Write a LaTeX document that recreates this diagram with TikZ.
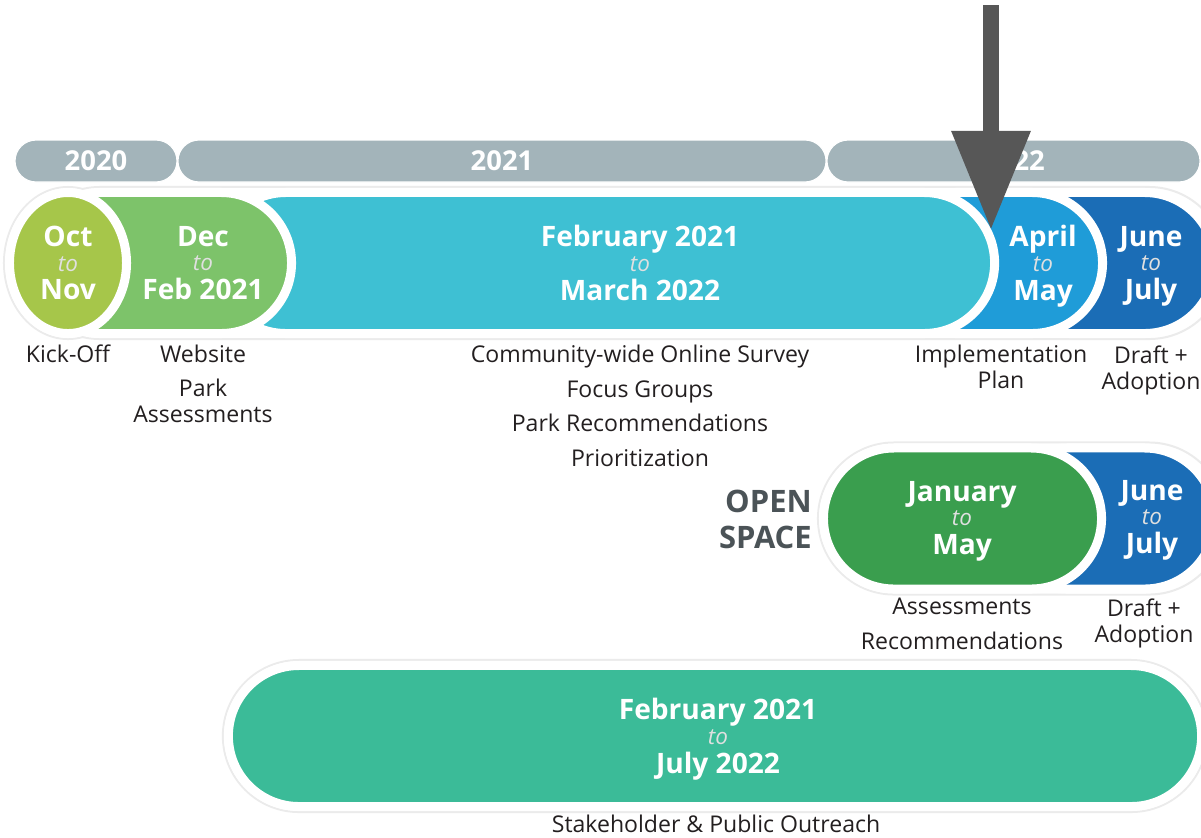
\documentclass[tikz,border=0pt]{standalone}
\usepackage{fontspec}
\setmainfont{Open Sans}
\usepackage{xcolor}
\usetikzlibrary{shapes,shapes.misc,shapes.geometric,arrows.meta,positioning}

\definecolor{yeargray}{HTML}{A3B4BA}
\definecolor{octgreen}{HTML}{A6C64A}
\definecolor{decgreen}{HTML}{7DC36A}
\definecolor{tealblue}{HTML}{3EC0D3}
\definecolor{aprilblue}{HTML}{1F9CD8}
\definecolor{juneblue}{HTML}{1B6DB6}
\definecolor{jangreen}{HTML}{3A9E4E}
\definecolor{outgreen}{HTML}{3BBB98}
\definecolor{spacegray}{HTML}{4B5357}
\definecolor{arrowgray}{HTML}{575757}
\definecolor{labelblack}{HTML}{231F20}

\newcommand{\upto}{{\fontsize{16}{18}\selectfont\mdseries\itshape\color{white!88!black}to}}

\begin{document}
\begin{tikzpicture}[x=0.025cm, y=-0.025cm,
    year/.style={rounded rectangle, fill=yeargray, draw=white, line width=0.03cm, minimum height=1.05cm, inner sep=0, text=white, font=\fontsize{19.5}{21}\selectfont\bfseries},
    halo/.style={rounded rectangle, fill=white, draw=black!8, line width=0.05cm, minimum height=3.8cm, inner sep=0},
    pill/.style={rounded rectangle, draw=white, line width=0.225cm, minimum height=3.525cm, inner sep=0},
    date/.style={text=white, align=center, text depth=0pt, font=\fontsize{20}{24}\selectfont\bfseries},
    task/.style={text=labelblack, align=center, font=\fontsize{16.4}{18.5}\selectfont},
    tasklist/.style={text=labelblack, align=center, font=\fontsize{16.4}{24.5}\selectfont},
    pointer/.style={draw=arrowgray, line width=0.4cm, -{Triangle[width=1.875cm, length=2.475cm]}}
]
\useasboundingbox (0,0) rectangle (1201,837);

% Year bars
\node[year, minimum width=4.05cm] (y2020) at (96,161) {2020};
\node[year, minimum width=16.2cm] (y2021) at (502,161) {2021};
\node[year, minimum width=9.325cm] (y2022) at (1013.5,161) {2022};

% Parks row
\node[halo, minimum width=30.025cm] (mainhalo) at (624.5,263) {};
\node[halo, ellipse, minimum width=3.2cm] (octhalo) at (68,263) {};
\node[pill, fill=juneblue, minimum width=5.3875cm] (adopt) at (1107.25,263) {};
\node[pill, fill=aprilblue, minimum width=5.425cm] (impl) at (994,263) {};
\node[pill, fill=tealblue, minimum width=19.475cm] (survey) at (605,263) {};
\node[pill, fill=decgreen, minimum width=6.55cm] (website) at (160.5,263) {};
\node[pill, ellipse, fill=octgreen, minimum width=2.925cm] (kickoff) at (68,263) {};

\node[date] (kickofftxt) at (68,263) {Oct\\[-6.5pt]\upto\\[-3.5pt]Nov};
\node[date] (websitetxt) at (203,263) {Dec\\[-6.5pt]\upto\\[-3.5pt]Feb 2021};
\node[date] (surveytxt) at (640,263) {February 2021\\[-6.5pt]\upto\\[-3.5pt]March 2022};
\node[date] (impltxt) at (1043,263) {April\\[-6.5pt]\upto\\[-3.5pt]May};
\node[date] (adopttxt) at (1151,263) {June\\[-6.5pt]\upto\\[-3.5pt]July};

\node[task] (kickofflbl) at (68,354) {Kick-Off};
\node[task] (websitelbl) at (203,354) {Website};
\node[task] (parklbl) at (203,401) {Park\\Assessments};
\node[tasklist] (surveylbl) at (640,406) {Community-wide Online Survey\\Focus Groups\\Park Recommendations\\Prioritization};
\node[task] (impllbl) at (1001,367) {Implementation\\Plan};
\node[task] (adoptlbl) at (1151,370) {Draft +\\Adoption};

% Open space row
\node[halo, minimum width=10.175cm] (openhalo) at (1021.5,518.5) {};
\node[pill, fill=juneblue, minimum width=5.4625cm] (osadopt) at (1105.75,518.5) {};
\node[pill, fill=jangreen, minimum width=6.95cm] (osassess) at (962.5,518.5) {};
\node[anchor=east, align=right, inner sep=0, text=spacegray, font=\fontsize{22}{25}\selectfont\bfseries] (openspace) at (812,519.5) {OPEN\\SPACE};

\node[date] (osassesstxt) at (962,518) {January\\[-6.5pt]\upto\\[-3.5pt]May};
\node[date] (osadopttxt) at (1152,517) {June\\[-6.5pt]\upto\\[-3.5pt]July};
\node[tasklist] (osassesslbl) at (962,624) {Assessments\\Recommendations};
\node[task] (osadoptlbl) at (1144,623) {Draft +\\Adoption};

% Outreach row
\node[halo, minimum width=24.6cm] (outhalo) at (715,736) {};
\node[pill, fill=outgreen, minimum width=24.325cm] (outreach) at (715,736) {};
\node[date] (outreachtxt) at (718,736) {February 2021\\[-6.5pt]\upto\\[-3.5pt]July 2022};
\node[task] (outreachlbl) at (716,824) {Stakeholder \& Public Outreach};

% We are here
\coordinate (arrowtop) at (991,5);
\coordinate (arrowtip) at (991,230);
\draw[pointer] (arrowtop) -- (arrowtip);

\end{tikzpicture}
\end{document}
